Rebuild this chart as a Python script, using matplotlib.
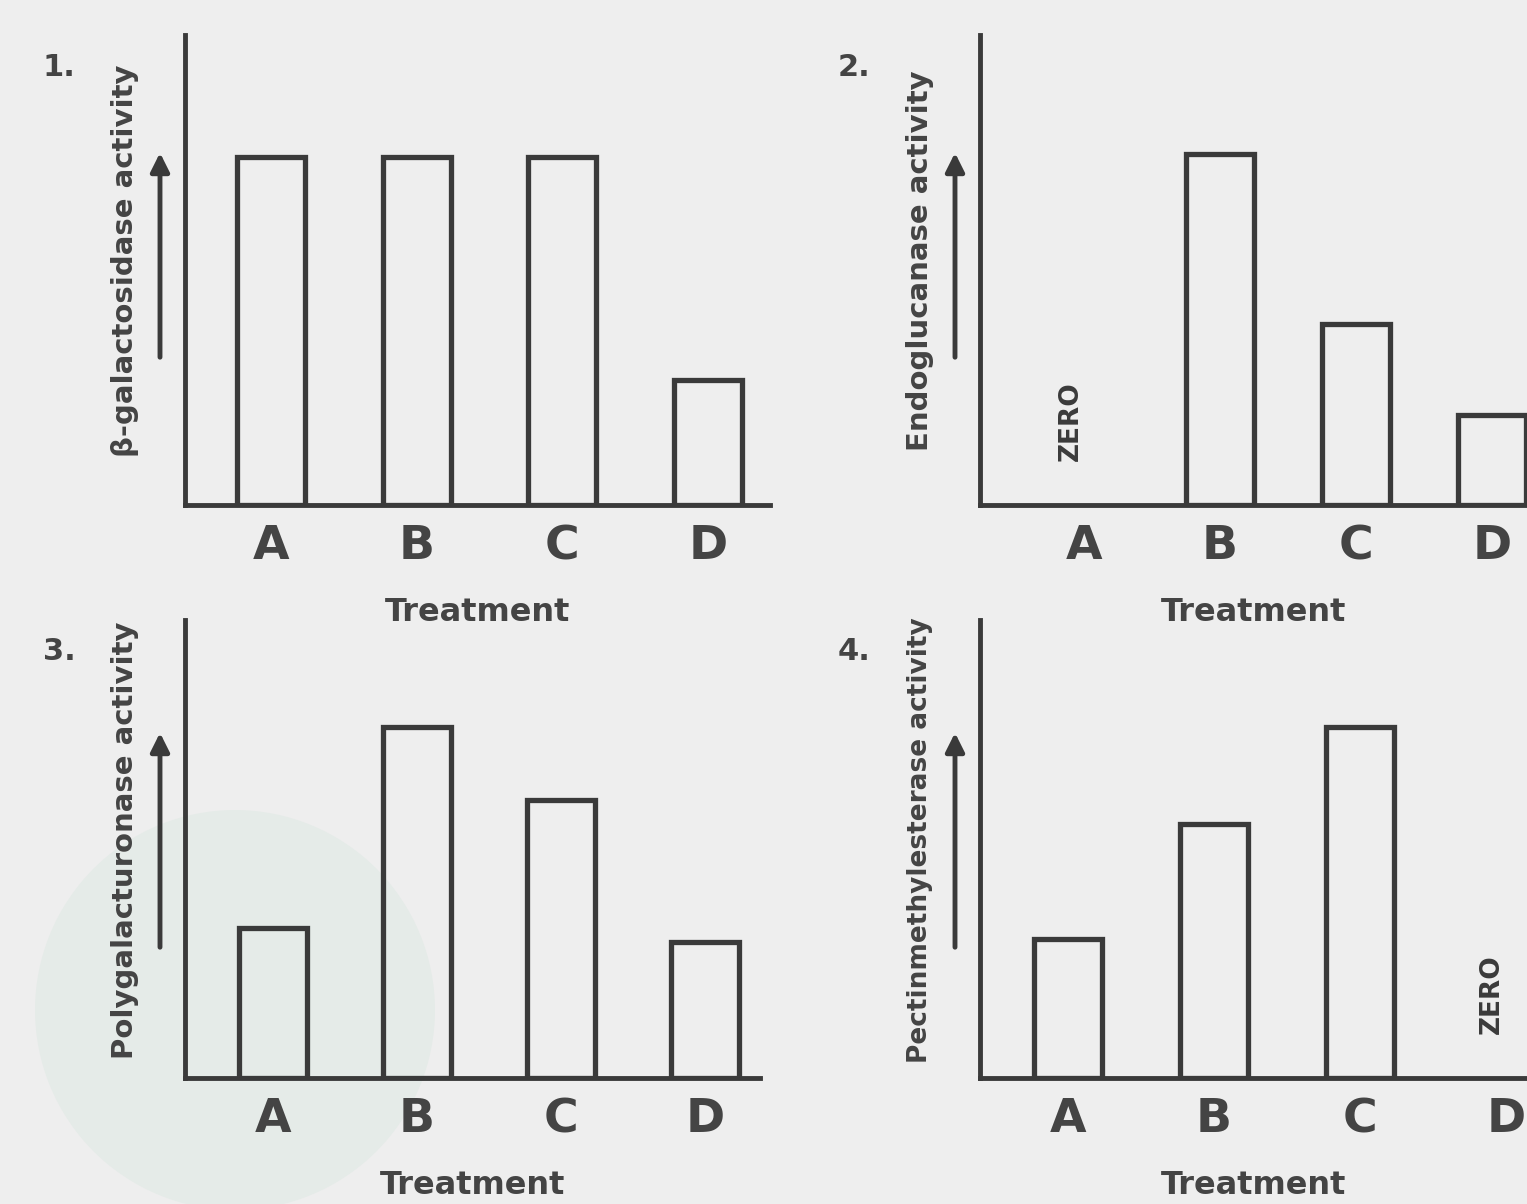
import matplotlib
matplotlib.use("Agg")
import matplotlib.pyplot as plt
from matplotlib.patches import Circle

W, H = 1527, 1204
BG = "#eeeeee"
INK = "#3a3a3a"

categories = ["A", "B", "C", "D"]
panel_numbers = ["1.", "2.", "3.", "4."]
ylabels = ["β-galactosidase activity",
           "Endoglucanase activity",
           "Polygalacturonase activity",
           "Pectinmethylesterase activity"]
xlabel = "Treatment"
values_1 = [10.0, 10.0, 10.0, 3.6]
values_2 = [0.0, 10.1, 5.2, 2.6]
values_3 = [4.3, 10.1, 8.0, 3.9]
values_4 = [4.0, 7.3, 10.1, 0.0]
zero_label = "ZERO"

all_values = [values_1, values_2, values_3, values_4]

# layout in pixels: (left, right, top, bottom, first bar centre, spacing, zero-text x offset, ylabel size)
layout = [
    (185, 770, 35, 505, 271, 145.7, 0.0, 21),
    (980, 1527, 35, 505, 1084, 136.0, -0.1, 21),
    (185, 760, 620, 1078, 273, 144.0, 0.0, 21),
    (980, 1527, 620, 1078, 1068, 146.0, -0.1, 19),
]
PX_PER_UNIT = 34.8

fig = plt.figure(figsize=(W / 100, H / 100), dpi=100, facecolor=BG)

# faint watermark circle in the lower-left
wm = fig.add_axes([0, 0, 1, 1])
wm.set_xlim(0, W)
wm.set_ylim(H, 0)
wm.axis("off")
wm.add_patch(Circle((235, 1010), 200, facecolor="#e5ebe8", edgecolor="none"))

for i, (vals, (l, r, t, b, c0, sp, zoff, yls)) in enumerate(zip(all_values, layout)):
    ax = fig.add_axes([l / W, (H - b) / H, (r - l) / W, (b - t) / H])
    ax.patch.set_alpha(0)
    xs = list(range(len(categories)))
    bw = 68 / sp
    for x, v in zip(xs, vals):
        if v > 0:
            ax.bar(x, v, width=bw, facecolor="none", edgecolor=INK,
                   linewidth=3.8, zorder=3)
        else:
            ax.text(x + zoff, 2.4, zero_label, rotation=90, ha="center",
                    va="center", fontsize=19, fontweight="bold", color=INK)
    ax.set_xlim((l - c0) / sp, (r - c0) / sp)
    ax.set_ylim(0, (b - t) / PX_PER_UNIT)
    for s in ["top", "right"]:
        ax.spines[s].set_visible(False)
    for s in ["left", "bottom"]:
        ax.spines[s].set_linewidth(3.5)
        ax.spines[s].set_color(INK)
    ax.set_yticks([])
    ax.set_xticks(xs)
    ax.set_xticklabels(categories, fontsize=34, fontweight="bold", color="#444444")
    ax.tick_params(axis="x", length=0, pad=14)
    ax.set_xlabel(xlabel, fontsize=23, fontweight="bold", color="#444444",
                  labelpad=20)
    # arrow to the left of the y axis
    top_off = 115 if i < 2 else 110
    bot_off = 325 if i < 2 else 330
    ax.annotate("", xy=(-25 / (r - l), 1 - top_off / (b - t)),
                xytext=(-25 / (r - l), 1 - bot_off / (b - t)),
                xycoords="axes fraction", textcoords="axes fraction",
                arrowprops=dict(arrowstyle="-|>", color=INK, lw=3.5,
                                mutation_scale=28), annotation_clip=False)
    ax.text(-60 / (r - l), 0.52, ylabels[i], rotation=90, transform=ax.transAxes,
            ha="center", va="center", fontsize=yls, fontweight="bold", color="#444444")
    fig.text((l - 142) / W, 1 - (t + 32) / H, panel_numbers[i], fontsize=22,
             fontweight="bold", color="#444444", ha="left", va="center")

fig.savefig("out.png", dpi=100, facecolor=BG)
